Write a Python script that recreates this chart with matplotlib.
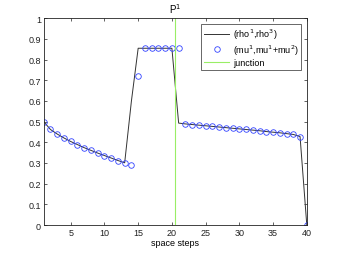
import matplotlib
matplotlib.use("Agg")
import matplotlib.pyplot as plt
import numpy as np

steps = np.arange(1, 41)
rho = [0.500, 0.462, 0.440, 0.421, 0.404, 0.389, 0.374, 0.361, 0.348, 0.336,
       0.324, 0.312, 0.301, 0.600, 0.855, 0.855, 0.855, 0.855, 0.855, 0.855,
       0.493, 0.489, 0.486, 0.483, 0.480, 0.477, 0.474, 0.471, 0.468, 0.465,
       0.462, 0.459, 0.456, 0.452, 0.449, 0.446, 0.442, 0.438, 0.428, 0.000]
mu = [0.500, 0.462, 0.440, 0.421, 0.404, 0.389, 0.374, 0.361, 0.348, 0.336,
      0.324, 0.312, 0.301, 0.290, 0.720, 0.855, 0.855, 0.855, 0.855, 0.855,
      0.855, 0.489, 0.486, 0.483, 0.480, 0.477, 0.474, 0.471, 0.468, 0.465,
      0.462, 0.459, 0.456, 0.452, 0.449, 0.446, 0.442, 0.438, 0.428, 0.000]
junction_x = 20.5
xticks = [5, 10, 15, 20, 25, 30, 35, 40]
yticks = [0, 0.1, 0.2, 0.3, 0.4, 0.5, 0.6, 0.7, 0.8, 0.9, 1]
ytick_labels = ["0", "0.1", "0.2", "0.3", "0.4", "0.5", "0.6", "0.7", "0.8", "0.9", "1"]

plt.rcParams['font.family'] = ['Liberation Sans', 'DejaVu Sans']
fig = plt.figure(figsize=(3.39, 2.55), dpi=100)
ax = fig.add_axes([0.129, 0.1137, 0.776, 0.8107])

ax.plot(steps, rho, color='#333333', lw=0.7, label='(rho$^1$,rho$^3$)')
ax.plot(steps, mu, 'o', mfc='none', mec='#3344ff', ms=4.0, mew=0.6,
        label='(mu$^1$,mu$^1$+mu$^2$)')
ax.axvline(junction_x, color='#99ee66', lw=0.8, label='junction')

ax.set_xlim(1, 40)
ax.set_ylim(0, 1)
ax.set_xticks(xticks)
ax.set_yticks(yticks)
ax.set_yticklabels(ytick_labels)
ax.tick_params(direction='in', length=2.5, width=0.5, labelsize=6.5,
               top=True, right=True, pad=2, colors='#222222')
for s in ax.spines.values():
    s.set_linewidth(0.6)
    s.set_color('#222222')
ax.set_title('P$^1$', fontsize=7, pad=4)
ax.set_xlabel('space steps', fontsize=6.5, labelpad=1)

leg = ax.legend(loc='upper right', fontsize=6.5, frameon=True, fancybox=False,
                edgecolor='#222222', borderpad=0.3, labelspacing=0.15,
                handlelength=2.8, handletextpad=0.4, borderaxespad=0.6)
leg.get_frame().set_linewidth(0.6)

fig.savefig('out.png', dpi=100)
